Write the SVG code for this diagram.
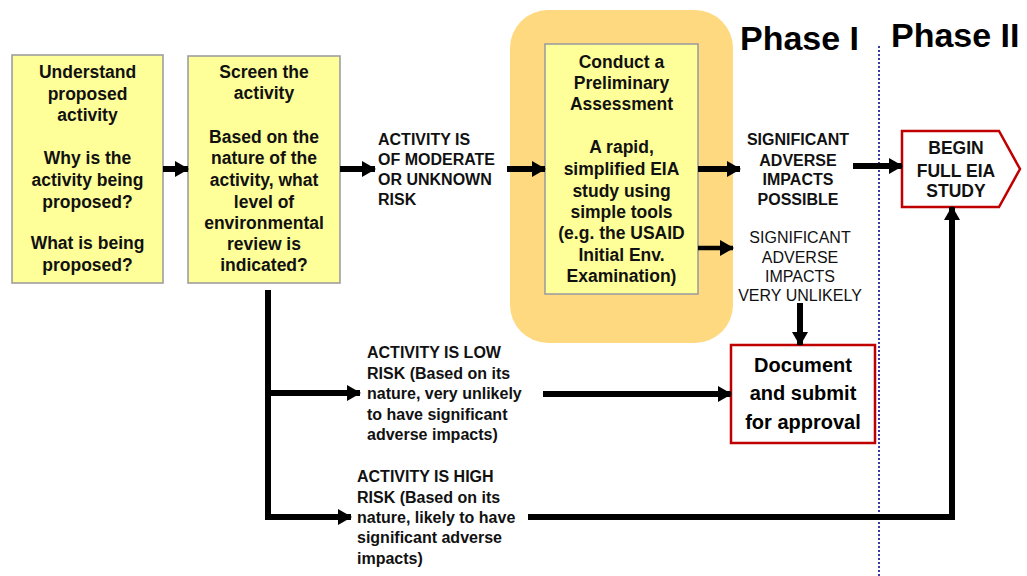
<svg xmlns="http://www.w3.org/2000/svg" width="1027" height="576" viewBox="0 0 1027 576">
<style>
.yb{fill:#FFFF99;stroke:#9E9E9E;stroke-width:1.6}
.rb{fill:#FFFFFF;stroke:#C00000;stroke-width:2.5}
.t{font-family:"Liberation Sans",Arial,sans-serif;font-weight:bold;fill:#111}
.bx{font-size:17.5px;text-anchor:middle}
.lb{font-size:16px}
.ln{font-size:16px;font-weight:normal}
.ph{font-size:34px;fill:#000}
.doc{font-size:20px;text-anchor:middle;fill:#000}
.c{stroke:#000;stroke-width:6;fill:none}
.c4{stroke:#000;stroke-width:4.5;fill:none}
</style>
<defs>
<marker id="ah" markerUnits="userSpaceOnUse" markerWidth="14" markerHeight="16" refX="13" refY="8" orient="auto">
<path d="M0,0 L14,8 L0,16 Z" fill="#000"/>
</marker>
</defs>
<rect x="0" y="0" width="1027" height="576" fill="#fff"/>

<g id="phase-region">
<rect x="510" y="10" width="223" height="333" rx="38" fill="#FFD980"/>
</g>

<g id="divider">
<line x1="879" y1="46" x2="879" y2="576" stroke="#3a3aa0" stroke-width="2" stroke-dasharray="2,2"/>
</g>

<g id="phase-labels">
<text class="t ph" x="740" y="50">Phase I</text>
<text class="t ph" x="891" y="47">Phase II</text>
</g>

<g id="understand">
<rect class="yb" x="12" y="55" width="151" height="228"/>
<text class="t bx"><tspan x="87.5" y="78">Understand</tspan><tspan x="87.5" y="99.5">proposed</tspan><tspan x="87.5" y="121">activity</tspan><tspan x="87.5" y="164">Why is the</tspan><tspan x="87.5" y="186">activity being</tspan><tspan x="87.5" y="207.5">proposed?</tspan><tspan x="87.5" y="249">What is being</tspan><tspan x="87.5" y="270.5">proposed?</tspan></text>
</g>

<g id="screen">
<rect class="yb" x="188" y="56" width="152" height="227"/>
<text class="t bx"><tspan x="264" y="78">Screen the</tspan><tspan x="264" y="99">activity</tspan><tspan x="264" y="143">Based on the</tspan><tspan x="264" y="164">nature of the</tspan><tspan x="264" y="186">activity, what</tspan><tspan x="264" y="208">level of</tspan><tspan x="264" y="229">environmental</tspan><tspan x="264" y="250">review is</tspan><tspan x="264" y="271">indicated?</tspan></text>
</g>

<g id="preliminary">
<rect class="yb" x="545" y="44" width="153" height="250"/>
<text class="t bx"><tspan x="621.5" y="68">Conduct a</tspan><tspan x="621.5" y="89">Preliminary</tspan><tspan x="621.5" y="110">Assessment</tspan><tspan x="621.5" y="153">A rapid,</tspan><tspan x="621.5" y="175">simplified EIA</tspan><tspan x="621.5" y="197">study using</tspan><tspan x="621.5" y="218">simple tools</tspan><tspan x="621.5" y="239">(e.g. the USAID</tspan><tspan x="621.5" y="261">Initial Env.</tspan><tspan x="621.5" y="282">Examination)</tspan></text>
</g>

<g id="begin-eia">
<polygon class="rb" points="902,131 999,131 1020,169 999,207 902,207"/>
<text class="t bx"><tspan x="956" y="154">BEGIN</tspan><tspan x="956" y="177">FULL EIA</tspan><tspan x="956" y="197">STUDY</tspan></text>
</g>

<g id="document">
<rect class="rb" x="731" y="345" width="144" height="98"/>
<text class="t doc"><tspan x="803" y="372">Document</tspan><tspan x="803" y="400">and submit</tspan><tspan x="803" y="429">for approval</tspan></text>
</g>

<g id="labels">
<text class="t lb"><tspan x="378" y="145">ACTIVITY IS</tspan><tspan x="378" y="165">OF MODERATE</tspan><tspan x="378" y="185">OR UNKNOWN</tspan><tspan x="378" y="205">RISK</tspan></text>
<text class="t lb" text-anchor="middle"><tspan x="798" y="145">SIGNIFICANT</tspan><tspan x="798" y="166">ADVERSE</tspan><tspan x="798" y="185">IMPACTS</tspan><tspan x="798" y="205">POSSIBLE</tspan></text>
<text class="t ln" text-anchor="middle"><tspan x="800" y="243">SIGNIFICANT</tspan><tspan x="800" y="263">ADVERSE</tspan><tspan x="800" y="282">IMPACTS</tspan><tspan x="800" y="301">VERY UNLIKELY</tspan></text>
<text class="t lb"><tspan x="367" y="358">ACTIVITY IS LOW</tspan><tspan x="367" y="378.5">RISK (Based on its</tspan><tspan x="367" y="399">nature, very unlikely</tspan><tspan x="367" y="419.5">to have significant</tspan><tspan x="367" y="440">adverse impacts)</tspan></text>
<text class="t lb"><tspan x="357" y="482">ACTIVITY IS HIGH</tspan><tspan x="357" y="503">RISK (Based on its</tspan><tspan x="357" y="523">nature, likely to have</tspan><tspan x="357" y="543">significant adverse</tspan><tspan x="357" y="564">impacts)</tspan></text>
</g>

<g id="connectors">
<line class="c" x1="163" y1="169" x2="188" y2="169" marker-end="url(#ah)"/>
<line class="c" x1="340" y1="169" x2="375" y2="169" marker-end="url(#ah)"/>
<line class="c" x1="507" y1="169" x2="545" y2="169" marker-end="url(#ah)"/>
<line class="c" x1="698" y1="169" x2="740" y2="169" marker-end="url(#ah)"/>
<line class="c4" x1="698" y1="248" x2="733" y2="248" marker-end="url(#ah)"/>
<line class="c" x1="853" y1="166" x2="902" y2="166" marker-end="url(#ah)"/>
<line class="c" x1="800" y1="303" x2="800" y2="345" marker-end="url(#ah)"/>
<polyline class="c" points="268,290 268,517 351,517" marker-end="url(#ah)"/>
<line class="c" x1="268" y1="393" x2="360" y2="393" marker-end="url(#ah)"/>
<line class="c" x1="543" y1="394" x2="731" y2="394" marker-end="url(#ah)"/>
<polyline class="c" points="528,517 952,517 952,207" marker-end="url(#ah)"/>
</g>
</svg>
